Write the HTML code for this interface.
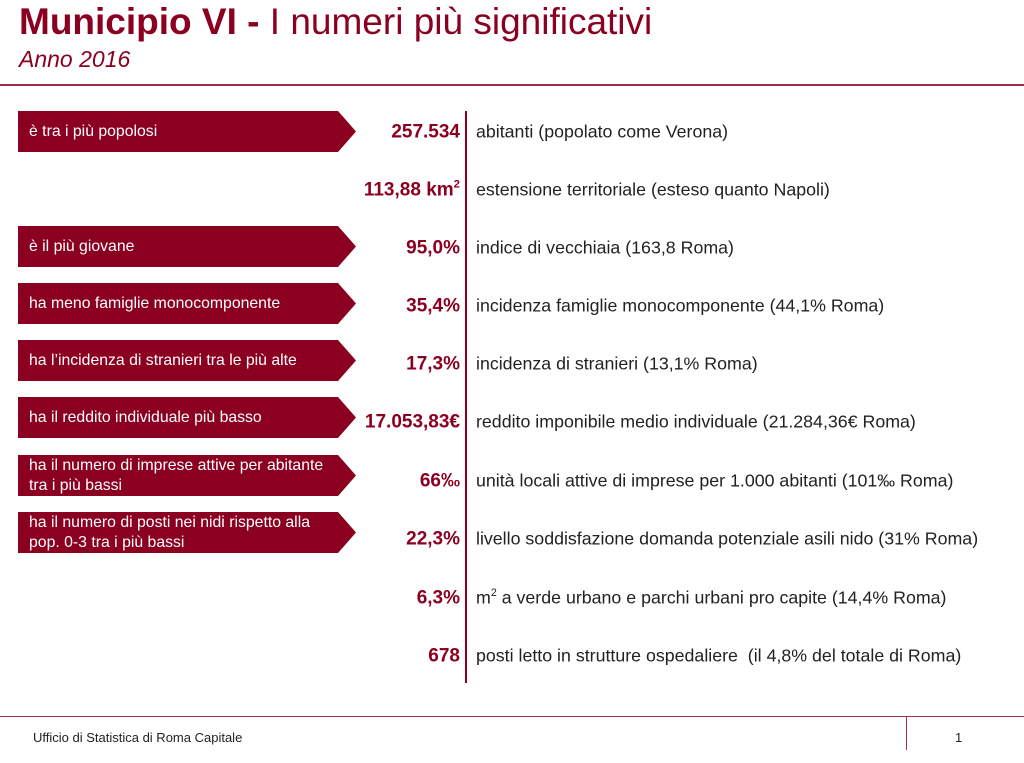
<!DOCTYPE html>
<html><head><meta charset="utf-8"><style>
body{margin:0;width:1024px;height:763px;background:#fff;font-family:"Liberation Sans",sans-serif;position:relative;overflow:hidden}
.a{position:absolute}
.t{left:19px;top:1px;font-size:37px;color:#8b0020;white-space:nowrap;letter-spacing:0px}
.s{left:19px;top:46px;font-size:23px;font-style:italic;color:#8b0020}
.hr{left:0;top:84px;width:1024px;height:2px;background:#a0304a}
.box{left:18px;width:338px;height:41px;background:#8b0020;clip-path:polygon(0 0,320px 0,338px 50%,320px 100%,0 100%);color:#fff;font-size:15.8px;box-sizing:border-box;padding:0 0 0 11px;display:flex;align-items:center;line-height:20px;white-space:nowrap}
.v{right:564px;font-size:19px;font-weight:bold;color:#8b0020;white-space:nowrap;transform:translateY(-48%)}
.d{left:476px;font-size:17.8px;color:#222;white-space:nowrap;transform:translateY(-50%)}
.vl{left:465px;top:111px;width:2px;height:572px;background:#8b0020}
sup{font-size:60%;vertical-align:0.7em;line-height:0}
</style></head><body>
<div class="a t"><b>Municipio VI -</b> I numeri più significativi</div>
<div class="a s">Anno 2016</div>
<div class="a hr"></div>
<div class="a vl"></div>

<div class="a box" style="top:111px">è tra i più popolosi</div>
<div class="a box" style="top:226px">è il più giovane</div>
<div class="a box" style="top:283px">ha meno famiglie monocomponente</div>
<div class="a box" style="top:340px">ha l’incidenza di stranieri tra le più alte</div>
<div class="a box" style="top:397px">ha il reddito individuale più basso</div>
<div class="a box" style="top:455px">ha il numero di imprese attive per abitante<br>tra i più bassi</div>
<div class="a box" style="top:512px">ha il numero di posti nei nidi rispetto alla<br>pop. 0-3 tra i più bassi</div>

<div class="a v" style="top:132px">257.534</div><div class="a d" style="top:132px">abitanti (popolato come Verona)</div>
<div class="a v" style="top:190px">113,88 km<sup>2</sup></div><div class="a d" style="top:190px">estensione territoriale (esteso quanto Napoli)</div>
<div class="a v" style="top:248px">95,0%</div><div class="a d" style="top:248px">indice di vecchiaia (163,8 Roma)</div>
<div class="a v" style="top:306px">35,4%</div><div class="a d" style="top:306px">incidenza famiglie monocomponente (44,1% Roma)</div>
<div class="a v" style="top:364px">17,3%</div><div class="a d" style="top:364px">incidenza di stranieri (13,1% Roma)</div>
<div class="a v" style="top:422px">17.053,83€</div><div class="a d" style="top:422px">reddito imponibile medio individuale (21.284,36€ Roma)</div>
<div class="a v" style="top:481px">66‰</div><div class="a d" style="top:481px">unità locali attive di imprese per 1.000 abitanti (101‰ Roma)</div>
<div class="a v" style="top:539px">22,3%</div><div class="a d" style="top:539px">livello soddisfazione domanda potenziale asili nido (31% Roma)</div>
<div class="a v" style="top:598px">6,3%</div><div class="a d" style="top:598px">m<sup>2</sup> a verde urbano e parchi urbani pro capite (14,4% Roma)</div>
<div class="a v" style="top:656px">678</div><div class="a d" style="top:656px">posti letto in strutture ospedaliere &nbsp;(il 4,8% del totale di Roma)</div>

<div class="a" style="left:0;top:716px;width:1024px;height:1px;background:#a0304a"></div>
<div class="a" style="left:906px;top:716px;width:1px;height:34px;background:#a0304a"></div>
<div class="a" style="left:33px;top:730px;font-size:13px;color:#222">Ufficio di Statistica di Roma Capitale</div>
<div class="a" style="left:955px;top:730px;font-size:13px;color:#222">1</div>
</body></html>
